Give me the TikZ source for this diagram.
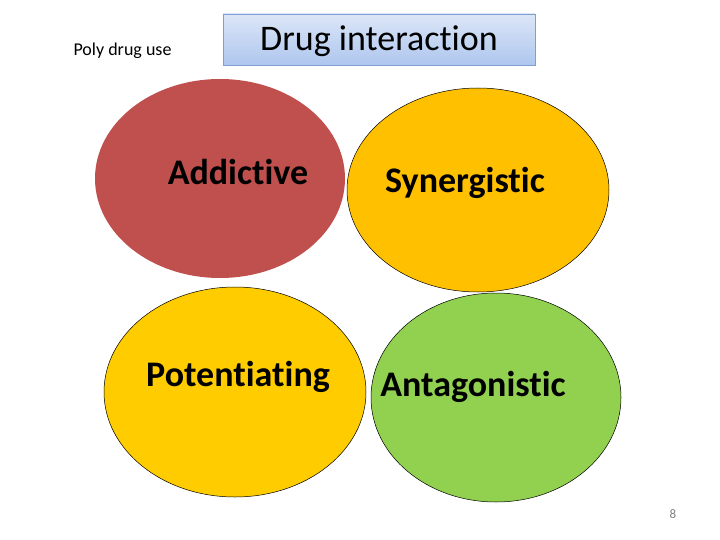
\documentclass[tikz,border=0pt]{standalone}
\usepackage{fontspec}
\setmainfont{Carlito}[Ligatures=NoCommon]
\definecolor{redE}{HTML}{C0504D}
\definecolor{orangeE}{HTML}{FFC000}
\definecolor{yellowE}{HTML}{FFCC00}
\definecolor{greenE}{HTML}{92D050}
\definecolor{boxTop}{HTML}{DCE6F7}
\definecolor{boxBot}{HTML}{AEC6EE}
\definecolor{boxLine}{HTML}{7F9FD3}
\tikzset{
  blob/.style={draw=black, line width=0.5pt},
  blabel/.style={font=\bfseries\fontsize{36}{42}\selectfont, inner sep=0pt, anchor=center},
}
\begin{document}
\begin{tikzpicture}[x=1pt,y=-1pt]
\useasboundingbox (0,0) rectangle (720,540);
\coordinate (add) at (220,178.5);
\coordinate (syn) at (478,190);
\coordinate (pot) at (235,392);
\coordinate (ant) at (496,397.5);
\fill[redE] (add) ellipse [x radius=125, y radius=99.5];
\filldraw[blob, fill=orangeE] (syn) ellipse [x radius=131, y radius=102];
\filldraw[blob, fill=yellowE] (pot) ellipse [x radius=131, y radius=105];
\filldraw[blob, fill=greenE] (ant) ellipse [x radius=125, y radius=104.5];
\node[blabel] (tadd) at (238,172) {Addictive};
\node[blabel] (tsyn) at (465,183) {Synergistic};
\node[blabel] (tpot) at (238,377) {Potentiating};
\node[blabel] (tant) at (473,387) {Antagonistic};
\node[draw=boxLine, line width=0.8pt, top color=boxTop, bottom color=boxBot, minimum width=312, minimum height=51, inner sep=0pt] (title) at (379,39.5) {};
\node[font=\fontsize{36}{42}\selectfont, inner sep=0pt] (ttitle) at (379,41) {Drug interaction};
\node[font=\fontsize{18}{21}\selectfont, inner sep=0pt] (poly) at (122.5,51) {Poly drug use};
\node[font=\fontsize{13}{15}\selectfont, text=gray, inner sep=0pt] (pg) at (673,514) {8};
\end{tikzpicture}
\end{document}
